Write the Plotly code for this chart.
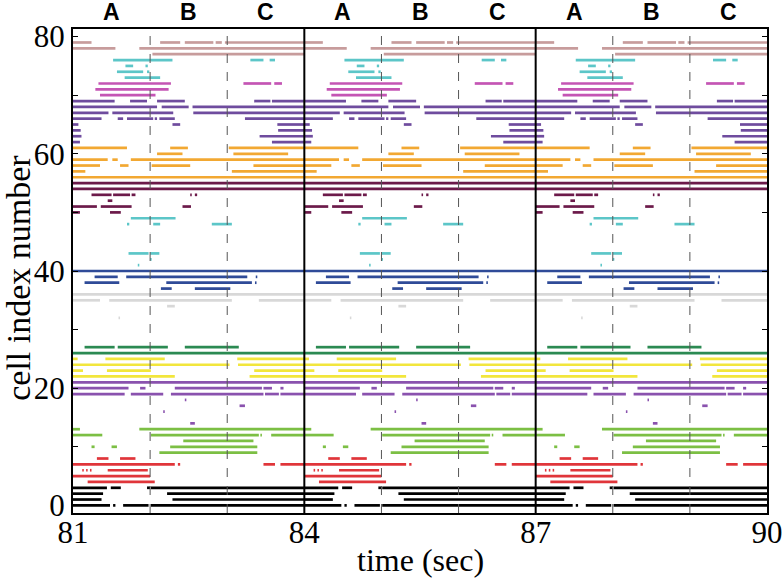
import plotly.graph_objs as go

# spike-train raster, one 3 s cycle (A, B, C); the cycle repeats three times
PERIOD = 3.0
T0 = 81
N_PERIODS = 3

# (cell index, [(start, end), ...]) with times relative to the cycle start
rosy_rows = [
    (79, [(0.0, 0.24), (1.13, 1.39), (1.45, 1.82), (1.85, 1.93), (1.97, 3.0)]),
    (78, [(0.0, 0.55), (0.86, 3.0)]),
    (77, [(1.03, 3.0)]),
]
cyan_top_rows = [
    (76, [(0.52, 1.29), (2.30, 2.47), (2.55, 2.62)]),
    (75, [(0.68, 0.78), (0.94, 0.97)]),
    (74, [(0.57, 0.91), (0.96, 0.99)]),
    (73, [(0.67, 1.13)]),
]
magenta_rows = [
    (72, [(0.33, 1.27), (2.21, 2.57), (2.61, 2.71)]),
    (71, [(0.29, 1.24)]),
    (70, [(0.35, 1.07)]),
]
purple_top_rows = [
    (69, [(0.0, 0.54), (0.74, 0.96), (1.09, 1.45), (2.35, 2.56), (2.58, 3.0)]),
    (68, [(0.0, 1.09), (1.15, 1.50), (1.55, 3.0)]),
    (67, [(0.0, 0.46), (0.51, 1.30), (1.56, 3.0)]),
    (66, [(0.0, 0.37), (0.58, 0.65), (0.70, 1.04), (1.06, 1.09), (1.12, 1.32), (2.23, 3.0)]),
    (65, [(0.0, 0.07), (1.29, 1.39), (2.65, 3.0)]),
    (64, [(0.0, 0.10), (2.66, 3.0)]),
    (63, [(0.0, 0.11), (2.42, 3.0)]),
    (62, [(0.0, 0.09), (2.58, 3.0)]),
]
orange_rows = [
    (61, [(0.0, 0.70), (1.26, 1.49), (2.02, 3.0)]),
    (60, [(1.09, 1.42), (2.08, 2.79)]),
    (59, [(0.0, 0.45), (0.51, 0.58), (0.75, 3.0)]),
    (58, [(0.0, 0.35), (0.61, 0.72), (1.02, 1.52), (2.34, 3.0)]),
    (57, [(0.0, 0.16), (2.06, 3.0)]),
    (56, [(0.0, 3.0)]),
]
maroon_rows = [
    (55, [(0.0, 3.0)]),
    (54, [(0.0, 3.0)]),
    (53, [(0.24, 0.50), (0.52, 0.74), (0.76, 0.81), (1.52, 1.54), (1.58, 1.61)]),
    (52, [(0.45, 0.51)]),
    (51, [(0.0, 0.31), (0.36, 0.76), (1.42, 1.53)]),
    (50, [(0.0, 0.09), (0.48, 0.62)]),
]
cyan_low_rows = [
    (49, [(0.75, 1.33)]),
    (48, [(0.70, 0.73), (1.04, 1.13), (1.80, 2.06)]),
    (43, [(0.72, 0.98), (1.00, 1.12)]),
    (42, [(1.00, 1.02)]),
    (41, [(0.84, 0.86)]),
]
navy_rows = [
    (40, [(0.0, 3.0)]),
    (39, [(0.28, 0.58), (0.69, 2.26), (2.37, 2.39)]),
    (38, [(0.15, 0.60), (1.21, 2.32), (2.36, 2.38)]),
    (37, [(1.14, 1.28), (1.58, 2.04)]),
]
gray_rows = [
    (36, [(0.0, 3.0)]),
    (35, [(0.0, 0.35), (0.47, 2.06), (2.41, 3.0)]),
    (34, [(1.22, 1.32)]),
    (32, [(0.59, 0.61)]),
]
green_rows = [
    (27, [(0.15, 0.54), (0.58, 1.23), (1.45, 2.15)]),
    (26, [(0.0, 3.0)]),
]
yellow_rows = [
    (25, [(0.0, 0.06), (0.42, 1.19), (2.13, 3.0)]),
    (24, [(0.0, 2.03), (2.14, 3.0)]),
    (23, [(0.0, 0.13), (0.44, 1.01), (2.35, 3.0)]),
    (22, [(0.0, 1.32), (2.29, 3.0)]),
]
purple_low_rows = [
    (21, [(0.0, 3.0)]),
    (20, [(0.0, 0.72), (0.87, 0.94), (1.32, 2.45), (2.47, 2.58), (2.69, 2.73)]),
    (19, [(0.0, 0.67), (0.75, 1.17), (1.27, 2.47), (2.49, 2.67), (2.69, 3.0)]),
    (18, [(1.45, 1.47)]),
    (17, [(2.16, 2.23)]),
    (16, [(1.17, 1.19)]),
    (14, [(1.52, 1.58)]),
]
lime_rows = [
    (13, [(0.0, 0.09), (0.86, 3.0)]),
    (12, [(0.0, 0.38), (1.01, 2.41), (2.43, 2.45), (2.57, 3.0)]),
    (11, [(1.43, 2.34)]),
    (10, [(0.24, 0.28), (0.50, 0.57), (1.26, 2.39)]),
    (9, [(1.12, 2.39)]),
]
red_rows = [
    (8, [(0.31, 0.46), (0.61, 0.81)]),
    (7, [(0.0, 1.32), (1.36, 1.39), (2.47, 2.62), (2.69, 3.0)]),
    (6, [(0.12, 0.14), (0.17, 0.19), (0.22, 0.24), (0.45, 0.97)]),
    (5, [(0.0, 1.00)]),
    (4, [(0.19, 1.06)]),
]
black_rows = [
    (3, [(0.0, 0.44), (0.49, 0.62), (0.96, 1.00), (1.01, 3.0)]),
    (2, [(0.0, 0.39), (1.22, 3.0)]),
    (1, [(0.0, 0.37), (1.29, 3.0)]),
    (0, [(0.0, 0.48), (0.52, 0.55), (0.65, 0.98), (1.01, 3.0)]),
]

groups = [
    (rosy_rows, "#c79c9c"),
    (cyan_top_rows, "#5cc6c8"),
    (magenta_rows, "#c455b4"),
    (purple_top_rows, "#6f4c9e"),
    (orange_rows, "#f2a832"),
    (maroon_rows, "#6c1a4a"),
    (cyan_low_rows, "#5cc6c8"),
    (navy_rows, "#2f4b98"),
    (gray_rows, "#d8d8d8"),
    (green_rows, "#2b8a52"),
    (yellow_rows, "#f2e63c"),
    (purple_low_rows, "#8a52ae"),
    (lime_rows, "#7cbf44"),
    (red_rows, "#e0353a"),
    (black_rows, "#000000"),
]

fig = go.Figure()
for rows, color in groups:
    xs, ys = [], []
    for p in range(N_PERIODS):
        off = T0 + p * PERIOD
        for cell, segs in rows:
            for s, e in segs:
                xs += [off + s, off + e, None]
                ys += [cell, cell, None]
    fig.add_trace(go.Scatter(x=xs, y=ys, mode="lines", line=dict(color=color, width=2.7),
                             hoverinfo="skip", showlegend=False))

# cycle boundaries (solid) and phase boundaries (dashed)
for p in range(N_PERIODS):
    off = T0 + p * PERIOD
    for k in (1, 2):
        fig.add_shape(type="line", x0=off + k, x1=off + k, y0=0, y1=1, yref="paper",
                      line=dict(color="#555555", width=1, dash="dash"))
    if p > 0:
        fig.add_shape(type="line", x0=off, x1=off, y0=0, y1=1, yref="paper",
                      line=dict(color="black", width=2))
    for k, lab in enumerate("ABC"):
        fig.add_annotation(x=off + k + 0.5, y=1, yref="paper", yanchor="bottom", yshift=2,
                           text="<b>%s</b>" % lab, showarrow=False,
                           font=dict(family="Liberation Sans Narrow, Liberation Sans", size=23,
                                     color="black"))

# axis titles placed by hand so the margins stay fixed
fig.add_annotation(x=0.5, xref="paper", y=-0.056, yref="paper", yanchor="top",
                   text="time (sec)", showarrow=False,
                   font=dict(family="Liberation Serif", size=32, color="black"))
fig.add_annotation(x=-0.0785, xref="paper", y=0.485, yref="paper", xanchor="center",
                   text="cell index number", textangle=-90, showarrow=False,
                   font=dict(family="Liberation Serif", size=34, color="black"))

fig.update_layout(
    width=784, height=581,
    margin=dict(l=73, r=17, t=29, b=68, autoexpand=False),
    plot_bgcolor="white", paper_bgcolor="white",
    font=dict(family="Liberation Serif", size=31, color="black"),
)
fig.update_xaxes(range=[81, 90], tickvals=[81, 84, 87, 90], showgrid=False, zeroline=False,
                 showline=True, linecolor="black", linewidth=2, mirror=True,
                 ticks="inside", ticklen=5, tickcolor="black", automargin=False,
                 ticklabelstandoff=-9)
fig.update_yaxes(range=[-1.3, 81.3], tickvals=[0, 20, 40, 60, 80], showgrid=False, zeroline=False,
                 showline=True, linecolor="black", linewidth=2, mirror="ticks",
                 ticks="inside", ticklen=5, tickcolor="black", automargin=False,
                 minor=dict(tickvals=[10, 30, 50, 70], ticks="inside", ticklen=5, tickcolor="black"))

# the page's default body margin would shift the figure by 8 px
fig.write_html("out.html", config={"displayModeBar": False},
               post_script="document.body.style.margin='0';")
